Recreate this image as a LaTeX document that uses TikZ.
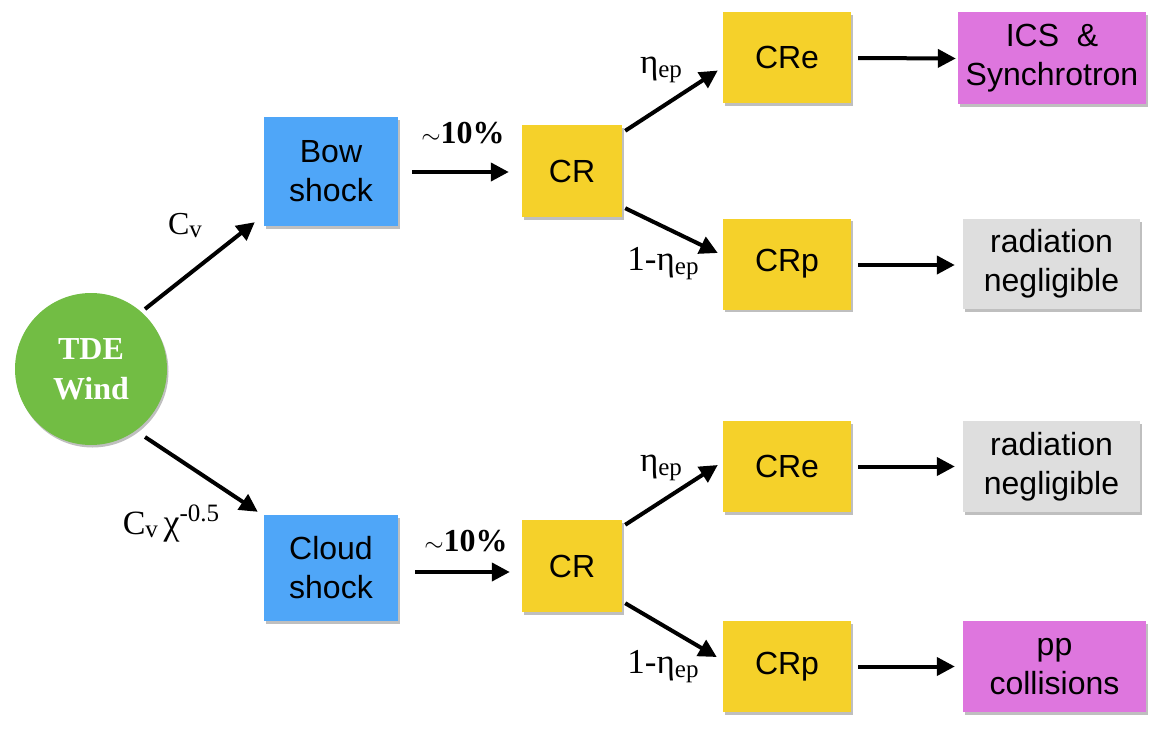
\documentclass[tikz,border=0pt]{standalone}
\usepackage{fontspec}
\setmainfont{Liberation Serif}
\setsansfont{Liberation Sans}
\usetikzlibrary{shadows,arrows.meta,calc}
\definecolor{cblue}{HTML}{4FA6F8}
\definecolor{cyellow}{HTML}{F5D12A}
\definecolor{cpurple}{HTML}{DE76DE}
\definecolor{cgray}{HTML}{DEDEDE}
\definecolor{cgreen}{HTML}{72BD44}
\tikzset{
  box/.style={rectangle, inner sep=0pt, align=center,
    font=\sffamily\fontsize{32}{39}\selectfont,
    drop shadow={shadow xshift=1.5pt, shadow yshift=-2.5pt, opacity=0.25, fill=black}},
  arr/.style={-{Triangle[length=18pt,width=18pt]}, line width=4pt},
  lab/.style={inner sep=0pt, font=\fontsize{35}{40}\selectfont},
  clab/.style={inner sep=0pt, font=\fontsize{32}{38}\selectfont},
  pct/.style={inner sep=0pt, font=\bfseries\fontsize{32}{38}\selectfont}
}
\newcommand{\subs}[1]{\raisebox{-4pt}{\fontsize{25}{25}\selectfont #1}}
\newcommand{\csub}[1]{\raisebox{-3pt}{\fontsize{25}{25}\selectfont #1}}
\newcommand{\sups}[1]{\raisebox{13pt}{\fontsize{25}{25}\selectfont #1}}
\newcommand{\eep}{η\subs{ep}}
\begin{document}
\begin{tikzpicture}[x=1pt,y=-1pt]
\useasboundingbox (0,0) rectangle (1162,731);
% circle
\node[circle, fill=cgreen, minimum size=152pt, inner sep=0pt, align=center,
  text=white, font=\bfseries\fontsize{32}{40}\selectfont,
  drop shadow={shadow xshift=1.5pt, shadow yshift=-2.5pt, opacity=0.25, fill=black}]
  (tde) at (91,369) {TDE\\Wind};
% shocks
\node[box, fill=cblue, minimum width=134pt, minimum height=109pt] (bow) at (331,171.5) {Bow\\shock};
\node[box, fill=cblue, minimum width=134pt, minimum height=106pt] (cloud) at (331,568) {Cloud\\shock};
% CR
\node[box, fill=cyellow, minimum width=100pt, minimum height=92pt] (cr1) at (572,171) {CR};
\node[box, fill=cyellow, minimum width=100pt, minimum height=92pt] (cr2) at (572,566) {CR};
% CRe / CRp
\node[box, fill=cyellow, minimum width=128pt, minimum height=91pt] (cre1) at (787,57.5) {CRe};
\node[box, fill=cyellow, minimum width=128pt, minimum height=91pt] (crp1) at (787,264) {CRp};
\node[box, fill=cyellow, minimum width=128pt, minimum height=91pt] (cre2) at (787,466.5) {CRe};
\node[box, fill=cyellow, minimum width=128pt, minimum height=91pt] (crp2) at (787,666.5) {CRp};
% outcomes
\node[box, fill=cpurple, minimum width=188pt, minimum height=92pt] (ics) at (1052,58) {ICS~~\&\\Synchrotron};
\node[box, fill=cgray, minimum width=177pt, minimum height=90pt] (rad1) at (1051.5,264) {radiation\\negligible};
\node[box, fill=cgray, minimum width=177pt, minimum height=91pt] (rad2) at (1051.5,466.5) {radiation\\negligible};
\node[box, fill=cpurple, minimum width=183pt, minimum height=91pt] (pp) at (1054.5,666.5) {pp\\collisions};
% arrows
\draw[arr] ($(tde.center)+(54,-60)$) -- ($(bow.south west)+(-9,-4)$);
\draw[arr] ($(tde.center)+(54,68)$) -- ($(cloud.north west)+(-6,-3)$);
\draw[arr] ($(bow.east)+(14,0.5)$) -- ($(cr1.west)+(-13,1)$);
\draw[arr] ($(cloud.east)+(17,4)$) -- ($(cr2.west)+(-12,6)$);
\draw[arr] ($(cr1.north east)+(3,6)$) -- ($(cre1.west)+(-5,13)$);
\draw[arr] ($(cr1.south east)+(3,-9)$) -- ($(crp1.west)+(-5,-11)$);
\draw[arr] ($(cr2.north east)+(3,5)$) -- ($(cre2.west)+(-5,-1.5)$);
\draw[arr] ($(cr2.south east)+(3,-9)$) -- ($(crp2.west)+(-6,-9.5)$);
\draw[arr] ($(cre1.east)+(7,0.5)$) -- ($(ics.west)+(-2,0.5)$);
\draw[arr] ($(crp1.east)+(7,1)$) -- ($(rad1.west)+(-8,1)$);
\draw[arr] ($(cre2.east)+(7,0)$) -- ($(rad2.west)+(-8,0)$);
\draw[arr] ($(crp2.east)+(7,0)$) -- ($(pp.west)+(-8,0)$);
% labels
\node[clab] (l1) at (185,226) {C\csub{v}};
\node[clab, font=\fontsize{34}{38}\selectfont] (l2) at (171,524) {C\csub{v}\,{\fontsize{36}{38}\selectfont χ}\sups{-0.5}};
\node[pct] (p1) at (463,133) {$\sim$10\%};
\node[pct] (p2) at (466,541) {$\sim$10\%};
\node[lab] (e1) at (661,70) {\eep};
\node[lab] (e2) at (663,264) {1-\eep};
\node[lab] (e3) at (661,468) {\eep};
\node[lab] (e4) at (663,667) {1-\eep};
\end{tikzpicture}
\end{document}
